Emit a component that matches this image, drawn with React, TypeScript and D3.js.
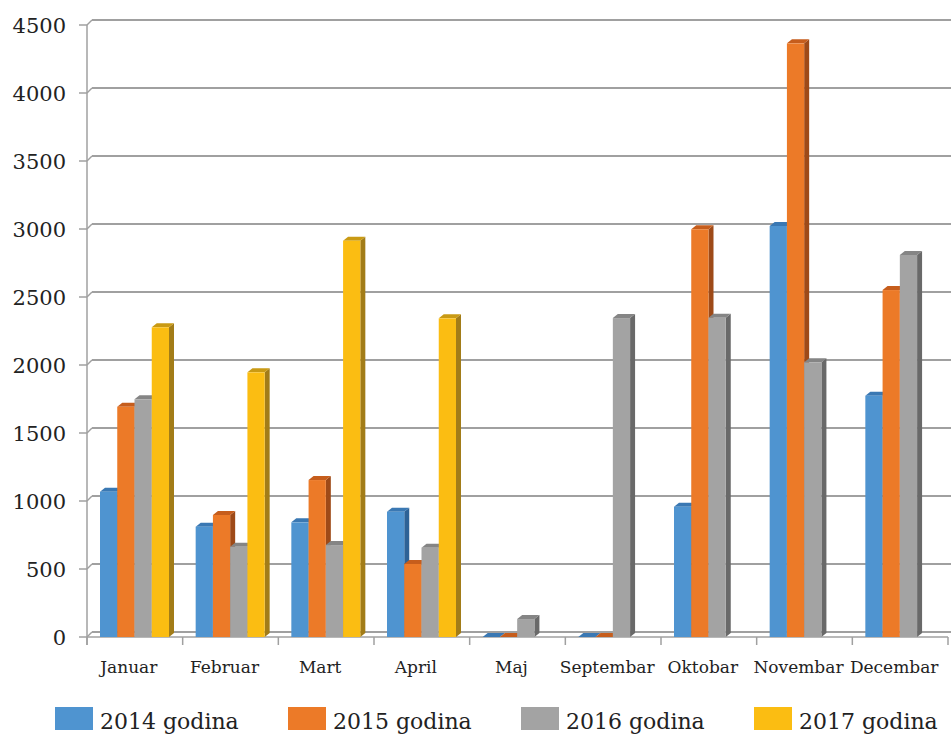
import React from "react";
import * as d3 from "d3";

const categories = ["Januar", "Februar", "Mart", "April", "Maj", "Septembar", "Oktobar", "Novembar", "Decembar"];
const seriesNames = ["2014 godina", "2015 godina", "2016 godina", "2017 godina"];
const v2014 = [1068, 811, 843, 921, 0, 0, 958, 3022, 1774];
const v2015 = [1693, 897, 1154, 537, 0, 0, 2998, 4365, 2551];
const v2016 = [1748, 664, 676, 657, 132, 2345, 2348, 2020, 2809];
const v2017: (number | null)[] = [2277, 1946, 2914, 2343, null, null, null, null, null];
const yTicks = [0, 500, 1000, 1500, 2000, 2500, 3000, 3500, 4000, 4500];

const seriesValues: (number | null)[][] = [v2014, v2015, v2016, v2017];
const frontColors = ["#4f94d0", "#ec7a28", "#a3a3a3", "#fbbd12"];
const topColors = ["#3a78b3", "#c65d1c", "#858585", "#c99a14"];
const sideColors = ["#2d6296", "#9e4a18", "#696969", "#a27c18"];

const W = 951;
const H = 736;
const X0 = 87;
const X1 = 948;
const DX = 5;
const DY = 5;
const BDX = 5;
const BDY = 4;
const FONT = "'DejaVu Serif', serif";

export default function App() {
  const y = d3.scaleLinear().domain([0, 4500]).range([637, 25]);
  const xCat = d3.scaleBand<string>().domain(categories).range([X0, X1]).padding(0);
  const xSer = d3.scaleBand<string>().domain(seriesNames).range([13, 13 + 69]).padding(0);
  const bw = xSer.bandwidth();

  const bars: React.ReactNode[] = [];
  categories.forEach((c, ci) => {
    seriesNames.forEach((s, si) => {
      const v = seriesValues[si][ci];
      if (v === null || v === undefined) return;
      const x = (xCat(c) as number) + (xSer(s) as number);
      const yt = y(v);
      const yb = y(0);
      bars.push(
        <g key={`${ci}-${si}`}>
          <polygon
            points={`${x + bw},${yt} ${x + bw + BDX},${yt - BDY} ${x + bw + BDX},${yb - BDY} ${x + bw},${yb}`}
            fill={sideColors[si]}
          />
          <polygon
            points={`${x},${yt} ${x + BDX},${yt - BDY} ${x + bw + BDX},${yt - BDY} ${x + bw},${yt}`}
            fill={topColors[si]}
          />
          <rect x={x} y={yt} width={bw} height={yb - yt} fill={frontColors[si]} />
        </g>
      );
    });
  });

  return (
    <svg
      width={W}
      height={H}
      style={{ position: "absolute", left: 0, top: 0, background: "#fff" }}
      fontFamily={FONT}
    >
      <rect x={0} y={0} width={W} height={H} fill="#fff" />
      {/* back wall gridlines */}
      {yTicks.map((t) => (
        <g key={t}>
          <line x1={X0 + DX} x2={W} y1={y(t) - DY} y2={y(t) - DY} stroke="#a0a0a0" strokeWidth={2} />
          <line x1={X0} x2={X0 + DX} y1={y(t)} y2={y(t) - DY} stroke="#a0a0a0" strokeWidth={1.5} />
          <line x1={79} x2={X0} y1={y(t)} y2={y(t)} stroke="#a0a0a0" strokeWidth={1.5} />
          <text x={66} y={y(t)} dy="0.36em" textAnchor="end" fontSize={21} fill="#222">
            {t}
          </text>
        </g>
      ))}
      {/* floor front edge */}
      <line x1={X0} x2={X1} y1={y(0)} y2={y(0)} stroke="#a0a0a0" strokeWidth={1.5} />
      {/* vertical axis */}
      <line x1={X0} x2={X0} y1={y(4500)} y2={y(0) + 8} stroke="#a0a0a0" strokeWidth={1.5} />
      {/* category ticks */}
      {d3.range(categories.length + 1).map((i) => {
        const xx = X0 + i * xCat.step();
        return <line key={i} x1={xx} x2={xx} y1={y(0)} y2={y(0) + 8} stroke="#a0a0a0" strokeWidth={1.5} />;
      })}
      {bars}
      {categories.map((c) => (
        <text
          key={c}
          x={(xCat(c) as number) + xCat.bandwidth() / 2 - 6}
          y={673}
          textAnchor="middle"
          fontSize={17}
          fill="#222"
        >
          {c}
        </text>
      ))}
      {seriesNames.map((s, i) => (
        <g key={s} transform={`translate(${55 + i * 233},707)`}>
          <rect x={0} y={0} width={38} height={23} fill={frontColors[i]} />
          <text x={45} y={22} fontSize={22} fill="#222">
            {s}
          </text>
        </g>
      ))}
    </svg>
  );
}
